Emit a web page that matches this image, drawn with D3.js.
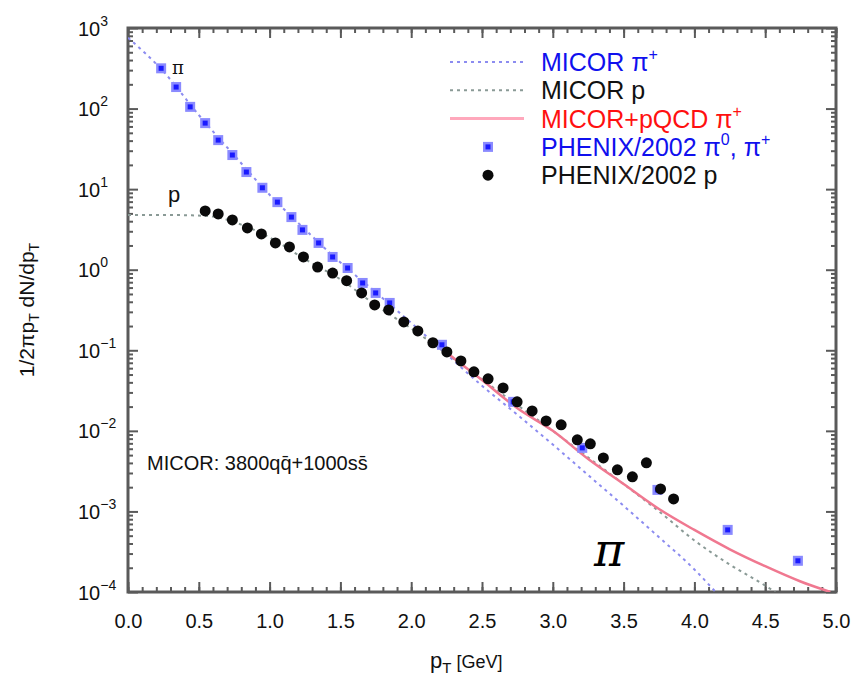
<!DOCTYPE html>
<html>
<head>
<meta charset="utf-8">
<script src="https://cdn.jsdelivr.net/npm/d3@7/dist/d3.min.js"></script>
<style>
  html, body { margin: 0; padding: 0; background: #fff; }
  svg { display: block; font-family: "Liberation Sans", Arial, sans-serif; }
</style>
</head>
<body>
<svg id="chart" width="856" height="676"></svg>
<script>
// PHENIX 2002 spectra (pT in GeV, yield 1/2πpT dN/dpT) and MICOR model curves (log10 of yield)
const pionPT    = [0.234, 0.340, 0.439, 0.545, 0.637, 0.737, 0.836, 0.949, 1.055, 1.154, 1.232, 1.346, 1.445, 1.551, 1.657, 1.749, 1.848, 2.217, 2.720, 3.208, 3.739, 4.235, 4.731];
const pionYield = [316, 185, 105, 66, 40.6, 26.5, 16.3, 10.4, 6.9, 4.5, 3.12, 2.15, 1.44, 1.05, 0.685, 0.515, 0.387, 0.117, 0.0229, 0.00615, 0.00185, 0.00059, 0.000244];

const protonPT    = [0.545, 0.637, 0.737, 0.843, 0.942, 1.041, 1.140, 1.239, 1.339, 1.445, 1.544, 1.650, 1.742, 1.841, 1.948, 2.047, 2.153, 2.252, 2.351, 2.443, 2.543, 2.649, 2.748, 2.854, 2.953, 3.059, 3.173, 3.265, 3.357, 3.456, 3.562, 3.661, 3.761, 3.853];
const protonYield = [5.37, 4.92, 4.15, 3.30, 2.78, 2.15, 1.92, 1.44, 1.08, 0.91, 0.73, 0.515, 0.366, 0.317, 0.225, 0.174, 0.124, 0.0955, 0.0738, 0.054, 0.0442, 0.0341, 0.0229, 0.0177, 0.0133, 0.0119, 0.00773, 0.0069, 0.00462, 0.00328, 0.00269, 0.00401, 0.0019, 0.00143];

const micorPionPT  = [0.0, 0.25, 0.5, 0.75, 1.0, 1.25, 1.5, 1.75, 2.0, 2.25, 2.5, 2.75, 3.0, 3.25, 3.5, 3.75, 4.0, 4.15];
const micorPionLog = [2.88, 2.46, 1.92, 1.42, 0.93, 0.50, 0.09, -0.28, -0.66, -1.05, -1.44, -1.80, -2.17, -2.55, -2.93, -3.32, -3.72, -4.0];

const micorProtonPT  = [0.0, 0.25, 0.45, 0.6, 0.8, 1.0, 1.25, 1.5, 1.75, 2.0, 2.25, 2.5, 2.75, 3.0, 3.25, 3.5, 3.75, 4.0, 4.25, 4.5, 4.57];
const micorProtonLog = [0.68, 0.68, 0.675, 0.66, 0.56, 0.40, 0.13, -0.12, -0.44, -0.73, -1.04, -1.36, -1.68, -2.0, -2.33, -2.66, -3.0, -3.36, -3.66, -3.92, -4.0];

const pqcdPT  = [2.15, 2.288, 2.5, 2.75, 3.0, 3.25, 3.5, 3.75, 4.0, 4.25, 4.5, 4.75, 4.96];
const pqcdLog = [-0.88, -1.08, -1.37, -1.72, -2.0, -2.35, -2.66, -2.97, -3.23, -3.47, -3.68, -3.87, -4.0];

const xTicks = [0.0, 0.5, 1.0, 1.5, 2.0, 2.5, 3.0, 3.5, 4.0, 4.5, 5.0];
const yExponents = [3, 2, 1, 0, -1, -2, -3, -4];

const svg = d3.select("#chart");
const L = 128, R = 836, T = 28, B = 592;

const x = d3.scaleLinear().domain([0, 5]).range([L, R]);
const y = d3.scaleLog().domain([1e-4, 1e3]).range([B, T]);

const axisColor = "#5a5a5a";

// minor and major ticks, all pointing into the frame
const xMinor = d3.range(0, 5.001, 0.1).map(v => +v.toFixed(1));
const yMinor = [];
for (let e = -4; e < 3; e++) for (let k = 2; k <= 9; k++) yMinor.push(k * Math.pow(10, e));
const yMajor = yExponents.map(e => Math.pow(10, e));

function styleAxis(g) {
  g.select(".domain").remove();
  g.selectAll(".tick line").attr("stroke", axisColor).attr("stroke-width", 2);
}

svg.append("g").attr("transform", `translate(0,${B})`)
  .call(d3.axisBottom(x).tickValues(xMinor).tickSize(-5).tickFormat("")).call(styleAxis);
svg.append("g").attr("transform", `translate(0,${T})`)
  .call(d3.axisTop(x).tickValues(xMinor).tickSize(-5).tickFormat("")).call(styleAxis);
svg.append("g").attr("transform", `translate(${L},0)`)
  .call(d3.axisLeft(y).tickValues(yMinor).tickSize(-5).tickFormat("")).call(styleAxis);
svg.append("g").attr("transform", `translate(${R},0)`)
  .call(d3.axisRight(y).tickValues(yMinor).tickSize(-5).tickFormat("")).call(styleAxis);

const xAxisG = svg.append("g").attr("transform", `translate(0,${B})`)
  .call(d3.axisBottom(x).tickValues(xTicks).tickSize(-10).tickPadding(22).tickFormat(d3.format(".1f")))
  .call(styleAxis);
xAxisG.selectAll(".tick text")
  .attr("fill", "#111").attr("font-size", 20).attr("font-family", "Liberation Sans, Arial, sans-serif");
svg.append("g").attr("transform", `translate(0,${T})`)
  .call(d3.axisTop(x).tickValues(xTicks).tickSize(-10).tickFormat("")).call(styleAxis);

const yAxisG = svg.append("g").attr("transform", `translate(${L},0)`)
  .call(d3.axisLeft(y).tickValues(yMajor).tickSize(-10).tickPadding(30).tickFormat(""))
  .call(styleAxis);
yAxisG.selectAll(".tick").each(function(d) {
  const e = Math.round(Math.log10(d));
  const t = d3.select(this).append("text")
    .attr("x", -50).attr("y", 7).attr("text-anchor", "start")
    .attr("fill", "#111").attr("font-size", 20)
    .attr("font-family", "Liberation Sans, Arial, sans-serif");
  t.append("tspan").text("10");
  t.append("tspan").attr("dy", -10).attr("font-size", 14).text(String(e).replace("-", "\u2212"));
});
svg.append("g").attr("transform", `translate(${R},0)`)
  .call(d3.axisRight(y).tickValues(yMajor).tickSize(-10).tickFormat("")).call(styleAxis);

// frame
svg.append("rect").attr("x", L).attr("y", T).attr("width", R - L).attr("height", B - T)
  .attr("fill", "none").attr("stroke", axisColor).attr("stroke-width", 3);

svg.append("clipPath").attr("id", "plotArea")
  .append("rect").attr("x", L).attr("y", T).attr("width", R - L).attr("height", B - T);

const plot = svg.append("g").attr("clip-path", "url(#plotArea)");

const curve = d3.line()
  .x(d => x(d[0]))
  .y(d => y(Math.pow(10, d[1])))
  .curve(d3.curveMonotoneX);

const zip = (a, b) => a.map((v, i) => [v, b[i]]);

// model curves
plot.append("path").datum(zip(micorProtonPT, micorProtonLog))
  .attr("d", curve).attr("fill", "none")
  .attr("stroke", "#8a9a96").attr("stroke-width", 2).attr("stroke-dasharray", "3,4");
plot.append("path").datum(zip(micorPionPT, micorPionLog))
  .attr("d", curve).attr("fill", "none")
  .attr("stroke", "#8c8cf0").attr("stroke-width", 2).attr("stroke-dasharray", "3,4");
plot.append("path").datum(zip(pqcdPT, pqcdLog))
  .attr("d", curve).attr("fill", "none")
  .attr("stroke", "#f07890").attr("stroke-width", 2.5);

// PHENIX pions: blue square symbols
function pionMarker(g, cx, cy) {
  g.append("rect").attr("x", cx - 5).attr("y", cy - 5).attr("width", 10).attr("height", 10)
    .attr("fill", "#8a8aff");
  g.append("rect").attr("x", cx - 2.5).attr("y", cy - 2.5).attr("width", 5).attr("height", 5)
    .attr("fill", "#1a1aff");
}
const pionG = plot.append("g");
pionPT.forEach((p, i) => pionMarker(pionG, x(p), y(pionYield[i])));

// PHENIX protons: black dots
plot.append("g").selectAll("circle")
  .data(zip(protonPT, protonYield)).join("circle")
  .attr("cx", d => x(d[0])).attr("cy", d => y(d[1])).attr("r", 5.5)
  .attr("fill", "#0a0a0a");

// curve labels
svg.append("text").attr("x", 172).attr("y", 74).attr("font-size", 18).attr("fill", "#111")
  .attr("font-family", "DejaVu Serif, serif").text("π");
svg.append("text").attr("x", 168).attr("y", 202).attr("font-size", 22).attr("fill", "#111").text("p");
svg.append("text").attr("x", 594).attr("y", 566).attr("font-size", 46).attr("fill", "#000")
  .attr("font-style", "italic").attr("font-family", "DejaVu Serif, serif").text("π");

// model annotation
svg.append("text").attr("x", 147).attr("y", 470).attr("font-size", 20).attr("fill", "#111")
  .text("MICOR: 3800qq\u0304+1000ss\u0304");

// legend
const legendRows = [
  { label: "MICOR π", sup: "+", color: "#1010ee", kind: "dot", stroke: "#8c8cf0" },
  { label: "MICOR p", sup: "", color: "#111", kind: "dot", stroke: "#8a9a96" },
  { label: "MICOR+pQCD π", sup: "+", color: "#ff1010", kind: "solid", stroke: "#ffa8bc" },
  { label: "PHENIX/2002 π", sup: "0", extra: ", π", sup2: "+", color: "#1010ee", kind: "pion" },
  { label: "PHENIX/2002 p", sup: "", color: "#111", kind: "proton" }
];
const lg = svg.append("g");
legendRows.forEach((r, i) => {
  const cy = 62 + i * 28.3;
  if (r.kind === "dot" || r.kind === "solid") {
    lg.append("line").attr("x1", 450).attr("x2", 524).attr("y1", cy).attr("y2", cy)
      .attr("stroke", r.stroke).attr("stroke-width", r.kind === "solid" ? 3 : 2)
      .attr("stroke-dasharray", r.kind === "dot" ? "3,4" : null);
  } else if (r.kind === "pion") {
    pionMarker(lg, 488, cy);
  } else {
    lg.append("circle").attr("cx", 488).attr("cy", cy).attr("r", 5.5).attr("fill", "#0a0a0a");
  }
  const t = lg.append("text").attr("x", 541).attr("y", cy + 9).attr("font-size", 25)
    .attr("fill", r.color);
  t.append("tspan").text(r.label);
  if (r.sup) t.append("tspan").attr("dy", -11).attr("font-size", 16).text(r.sup);
  if (r.extra) {
    t.append("tspan").attr("dy", 11).text(r.extra);
    t.append("tspan").attr("dy", -11).attr("font-size", 16).text(r.sup2);
  }
});

// axis titles
const xt = svg.append("text").attr("x", 430).attr("y", 668).attr("font-size", 22).attr("fill", "#111");
xt.append("tspan").text("p");
xt.append("tspan").attr("dy", 5).attr("font-size", 15).text("T");
xt.append("tspan").attr("dy", -5).attr("font-size", 18).text(" [GeV]");

const yt = svg.append("text").attr("transform", "translate(34,310) rotate(-90)")
  .attr("text-anchor", "middle").attr("font-size", 21).attr("fill", "#111");
yt.append("tspan").text("1/2πp");
yt.append("tspan").attr("dy", 5).attr("font-size", 14).text("T");
yt.append("tspan").attr("dy", -5).text(" dN/dp");
yt.append("tspan").attr("dy", 5).attr("font-size", 14).text("T");
</script>
</body>
</html>
